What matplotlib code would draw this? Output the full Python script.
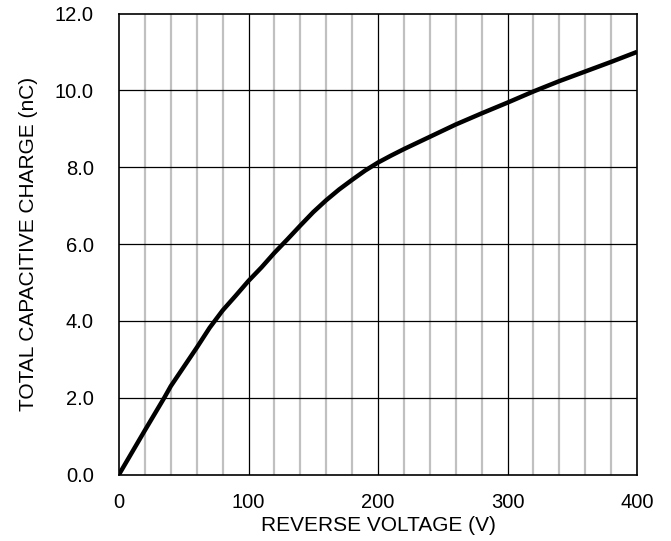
import matplotlib
matplotlib.use("Agg")
import matplotlib.pyplot as plt
import numpy as np

plt.rcParams['font.family'] = ['Liberation Sans', 'DejaVu Sans']

voltage = [0, 20, 35, 40, 50, 60, 70, 80, 90, 100, 110, 120, 130, 140, 150, 160, 170,
           180, 190, 200, 210, 220, 240, 260, 280, 300, 320, 340, 360, 380, 400]
charge = [0, 1.15, 2.0, 2.3, 2.8, 3.3, 3.82, 4.27, 4.65, 5.04, 5.39, 5.77, 6.12, 6.48,
          6.83, 7.14, 7.42, 7.67, 7.91, 8.12, 8.3, 8.47, 8.79, 9.11, 9.40, 9.68, 9.97,
          10.24, 10.49, 10.74, 11.0]
x_ticks = [0, 100, 200, 300, 400]
y_ticks = [0, 2, 4, 6, 8, 10, 12]
x_label = "REVERSE VOLTAGE (V)"
y_label = "TOTAL CAPACITIVE CHARGE (nC)"

fig = plt.figure(figsize=(6.71, 5.41), dpi=100)
ax = fig.add_axes([119/671, 1-474.5/541, (637-119)/671, (474.5-13.5)/541])

ax.set_xlim(0, 400)
ax.set_ylim(0, 12)

for v in np.arange(20, 400, 20):
    if v % 100 != 0:
        ax.axvline(v, color='#c0c0c0', lw=1.6, zorder=1)
for v in [100, 200, 300]:
    ax.axvline(v, color='black', lw=0.9, zorder=1.5)
for c in [2, 4, 6, 8, 10]:
    ax.axhline(c, color='black', lw=0.9, zorder=1.5)

ax.plot(voltage, charge, color='black', lw=3.2, zorder=3,
        solid_capstyle='butt', solid_joinstyle='round')

ax.set_xticks(x_ticks)
ax.set_xticklabels([str(t) for t in x_ticks])
ax.set_yticks(y_ticks)
ax.set_yticklabels([f"{t:.1f}" for t in y_ticks])
ax.tick_params(axis='both', length=0, labelsize=14.5)
ax.tick_params(axis='y', pad=18)
ax.tick_params(axis='x', pad=13)

for s in ax.spines.values():
    s.set_linewidth(1.2)
    s.set_color('black')

ax.set_xlabel(x_label, fontsize=15, labelpad=3)
ax.set_ylabel(y_label, fontsize=15, labelpad=12)

fig.savefig("out.png", dpi=100)
